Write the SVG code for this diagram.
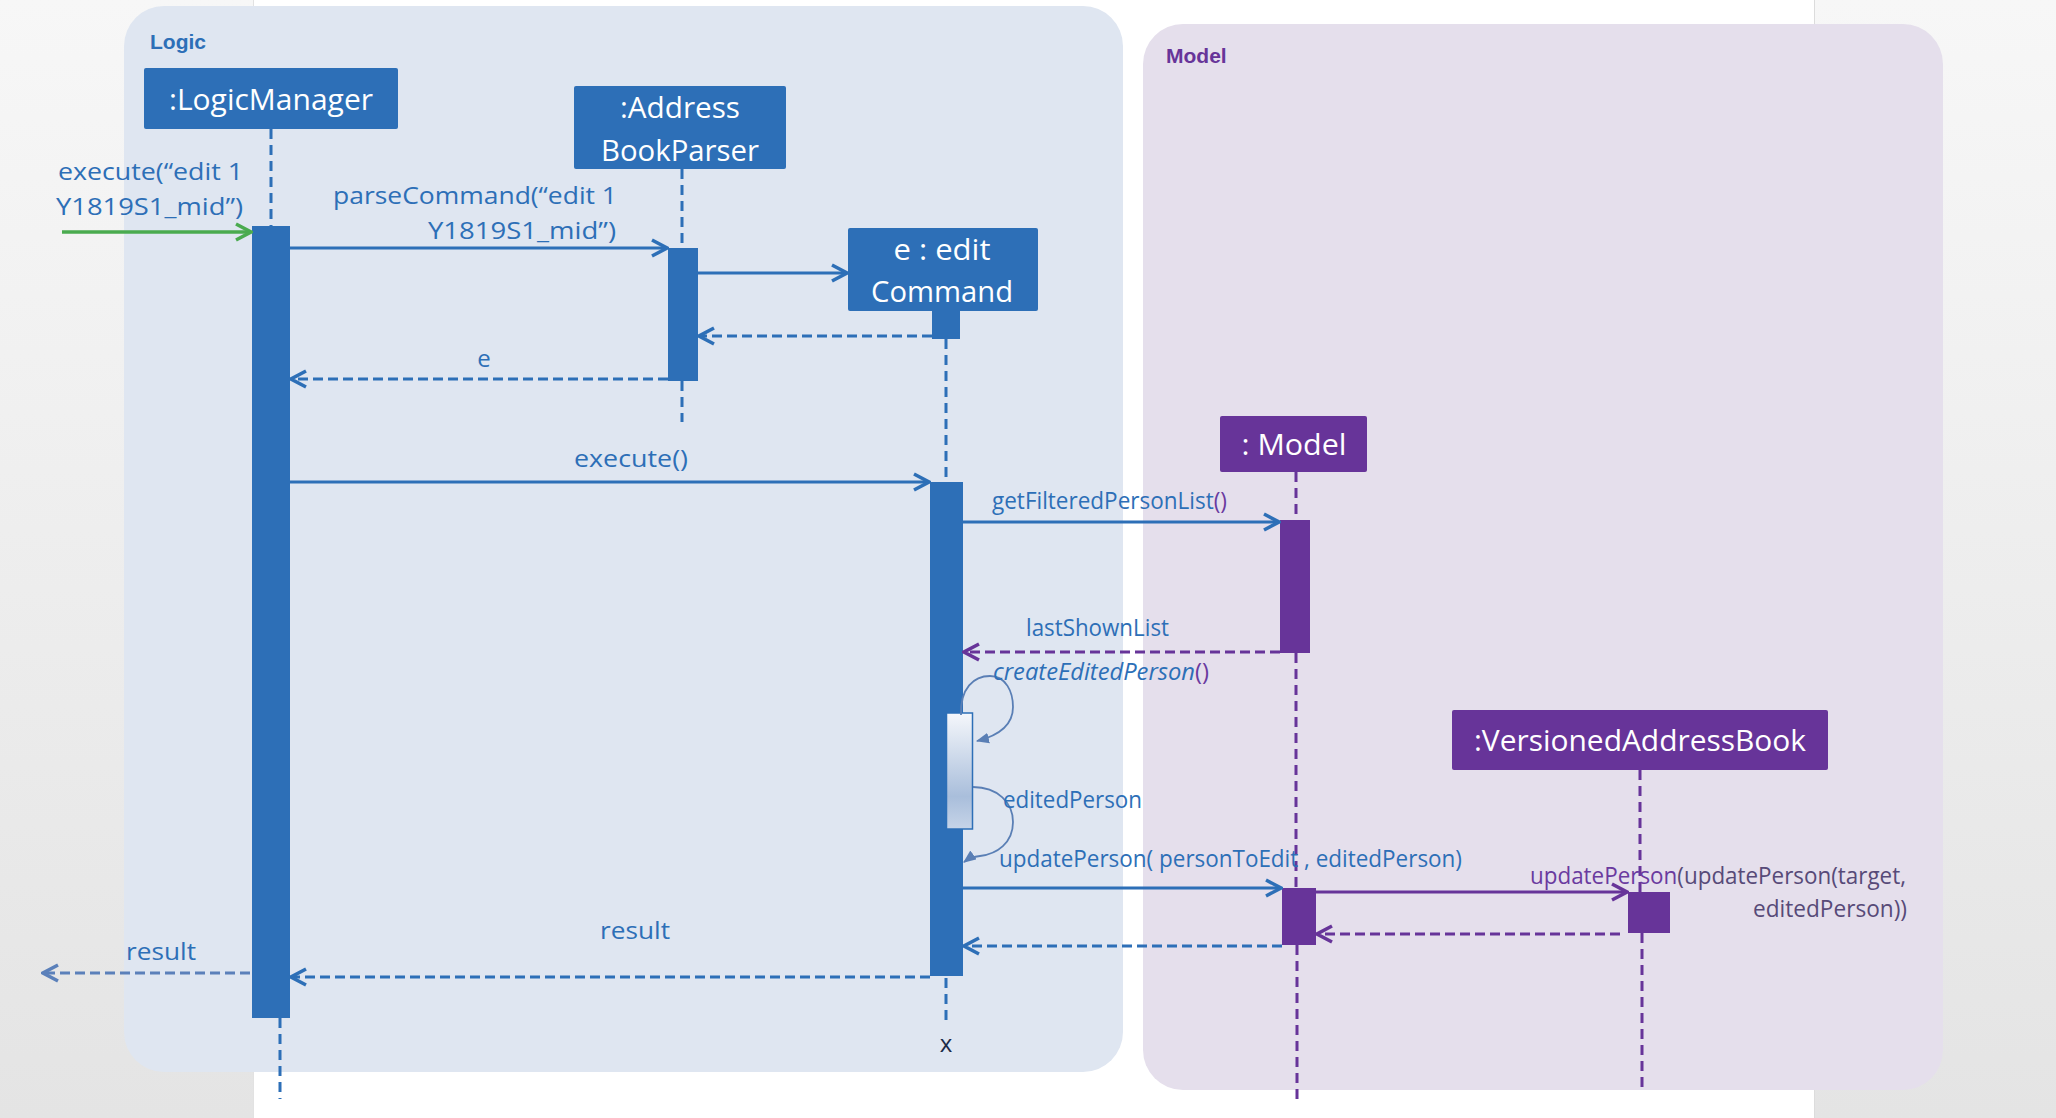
<svg xmlns="http://www.w3.org/2000/svg" width="2056" height="1118" viewBox="0 0 2056 1118">
<defs>
<linearGradient id="gray" x1="0" y1="0" x2="0" y2="1"><stop offset="0" stop-color="#f7f7f7"/><stop offset="1" stop-color="#e4e4e4"/></linearGradient>
<linearGradient id="inner" x1="0" y1="0" x2="0" y2="1"><stop offset="0" stop-color="#f5f7fb"/><stop offset="0.72" stop-color="#a9bedb"/><stop offset="1" stop-color="#c6d4e8"/></linearGradient>
<marker id="ab" viewBox="0 0 20 20" refX="18" refY="10" markerWidth="20" markerHeight="20" markerUnits="userSpaceOnUse" orient="auto"><path d="M3,2 L18,10 L3,18" fill="none" stroke="#2d6fb7" stroke-width="3.5"/></marker>
<marker id="ag" viewBox="0 0 20 20" refX="18" refY="10" markerWidth="20" markerHeight="20" markerUnits="userSpaceOnUse" orient="auto"><path d="M3,2 L18,10 L3,18" fill="none" stroke="#4aab4f" stroke-width="3.5"/></marker>
<marker id="ap" viewBox="0 0 20 20" refX="18" refY="10" markerWidth="20" markerHeight="20" markerUnits="userSpaceOnUse" orient="auto"><path d="M3,2 L18,10 L3,18" fill="none" stroke="#673499" stroke-width="3.5"/></marker>
<marker id="al" viewBox="0 0 20 20" refX="18" refY="10" markerWidth="20" markerHeight="20" markerUnits="userSpaceOnUse" orient="auto"><path d="M3,2 L18,10 L3,18" fill="none" stroke="#5b80ba" stroke-width="3.5"/></marker>
<marker id="tri" viewBox="0 0 12 10" refX="11" refY="5" markerWidth="13" markerHeight="11" markerUnits="userSpaceOnUse" orient="auto"><path d="M0,0 L12,5 L0,10 z" fill="#5a7fb5"/></marker>
</defs>
<style>
.lifeB{stroke:#2d6fb7;stroke-width:3;stroke-dasharray:10 6;fill:none}
.lifeP{stroke:#673499;stroke-width:3;stroke-dasharray:10 6;fill:none}
.barB{fill:#2d6fb7}
.barP{fill:#673499}
.boxB{fill:#2d6fb7}
.boxP{fill:#673499}
.msgB{stroke:#2d6fb7;stroke-width:3.2;fill:none;marker-end:url(#ab)}
.msgP{stroke:#673499;stroke-width:3.2;fill:none;marker-end:url(#ap)}
.retB{stroke:#2d6fb7;stroke-width:3.2;fill:none;stroke-dasharray:10 5;marker-end:url(#ab)}
.retP{stroke:#673499;stroke-width:3.2;fill:none;stroke-dasharray:10 5;marker-end:url(#ap)}
.self{stroke:#5a7fb5;stroke-width:1.8;fill:none;marker-end:url(#tri)}
.t{font-family:"Open Sans","Liberation Sans",sans-serif}
.lbl{font-size:24px;fill:#2d6fb7}
.pl{fill:#6a3a9f}
.gp{fill:#574a78}
.bt{font-size:30px;fill:#ffffff;text-anchor:middle}
.ttl{font-family:"Liberation Sans",sans-serif;font-weight:bold;font-size:21px}
</style>

<g id="background">
<rect x="0" y="0" width="253" height="1118" fill="url(#gray)"/>
<rect x="253" y="0" width="1562" height="1118" fill="#ffffff"/>
<rect x="1815" y="0" width="241" height="1118" fill="url(#gray)"/>
<line x1="253.5" y1="0" x2="253.5" y2="1118" stroke="#e2e2e2" stroke-width="1"/>
<line x1="1814.5" y1="0" x2="1814.5" y2="1118" stroke="#dcdcdc" stroke-width="1"/>
</g>

<g id="logic-panel">
<rect x="124" y="6" width="999" height="1066" rx="40" fill="#dfe6f1"/>
<text class="ttl" x="150" y="49" fill="#2d6fb7">Logic</text>
</g>
<g id="model-panel">
<rect x="1143" y="24" width="800" height="1066" rx="40" fill="#e5dfec"/>
<text class="ttl" x="1166" y="63" fill="#673499">Model</text>
</g>

<g id="logicManager">
<line class="lifeB" x1="271" y1="129" x2="271" y2="226"/>
<line class="lifeB" x1="280" y1="1018" x2="280" y2="1099"/>
<rect class="boxB" x="144" y="68" width="254" height="61" rx="2"/>
<text class="t bt" x="271" y="110" textLength="204" lengthAdjust="spacingAndGlyphs">:LogicManager</text>
<rect class="barB" x="252" y="226" width="38" height="792"/>
</g>

<g id="addressBookParser">
<line class="lifeB" x1="682" y1="169" x2="682" y2="248"/>
<line class="lifeB" x1="682" y1="381" x2="682" y2="422"/>
<rect class="boxB" x="574" y="86" width="212" height="83" rx="2"/>
<text class="t bt" x="680" y="118" textLength="120" lengthAdjust="spacingAndGlyphs">:Address</text>
<text class="t bt" x="680" y="161" textLength="158" lengthAdjust="spacingAndGlyphs">BookParser</text>
<rect class="barB" x="668" y="248" width="30" height="133"/>
</g>

<g id="editCommand">
<line class="lifeB" x1="946" y1="339" x2="946" y2="482"/>
<line class="lifeB" x1="946" y1="978" x2="946" y2="1022"/>
<rect class="boxB" x="848" y="228" width="190" height="83" rx="2"/>
<text class="t bt" x="942" y="260" textLength="97" lengthAdjust="spacingAndGlyphs">e : edit</text>
<text class="t bt" x="942" y="302" textLength="142" lengthAdjust="spacingAndGlyphs">Command</text>
<rect class="barB" x="932" y="311" width="28" height="28"/>
<rect class="barB" x="930" y="482" width="33" height="494"/>
<rect x="946.5" y="713" width="26" height="116" fill="url(#inner)" stroke="#2d6fb7" stroke-width="1.5"/>
<text class="t" x="946" y="1052" font-size="24" fill="#1c2a48" text-anchor="middle">x</text>
</g>

<g id="model">
<line class="lifeP" x1="1296" y1="472" x2="1296" y2="520"/>
<line class="lifeP" x1="1296" y1="653" x2="1296" y2="888"/>
<line class="lifeP" x1="1297" y1="945" x2="1297" y2="1103"/>
<rect class="boxP" x="1220" y="416" width="147" height="56" rx="2"/>
<text class="t bt" x="1294" y="455" textLength="105" lengthAdjust="spacingAndGlyphs">: Model</text>
<rect class="barP" x="1280" y="520" width="30" height="133"/>
<rect class="barP" x="1282" y="888" width="34" height="57"/>
</g>

<g id="versionedAddressBook">
<line class="lifeP" x1="1640" y1="770" x2="1640" y2="892"/>
<line class="lifeP" x1="1642" y1="933" x2="1642" y2="1090"/>
<rect class="boxP" x="1452" y="710" width="376" height="60" rx="2"/>
<text class="t bt" x="1640" y="751" textLength="332" lengthAdjust="spacingAndGlyphs">:VersionedAddressBook</text>
<rect class="barP" x="1628" y="892" width="42" height="41"/>
</g>

<g id="connectors">
<line x1="62" y1="232" x2="251" y2="232" stroke="#4aab4f" stroke-width="3.4" marker-end="url(#ag)"/>
<line class="msgB" x1="290" y1="248" x2="667" y2="248"/>
<line class="msgB" x1="698" y1="273" x2="847" y2="273"/>
<line class="retB" x1="932" y1="336" x2="699" y2="336"/>
<line class="retB" x1="668" y1="379" x2="291" y2="379"/>
<line class="msgB" x1="290" y1="482" x2="929" y2="482"/>
<line class="msgB" x1="963" y1="522" x2="1279" y2="522"/>
<line class="retP" x1="1280" y1="652" x2="964" y2="652"/>
<path class="self" d="M961,715 C960,688 974,676 990,676 C1006,676 1013,692 1013,707 C1013,724 1001,735 977,741"/>
<path class="self" d="M973,787 C998,787 1013,803 1013,822 C1013,843 997,854 980,856 C972,857 968,859 964,862"/>
<line class="msgB" x1="963" y1="888" x2="1281" y2="888"/>
<line class="msgP" x1="1316" y1="892" x2="1627" y2="892"/>
<line class="retP" x1="1620" y1="934" x2="1317" y2="934"/>
<line class="retB" x1="1282" y1="946" x2="964" y2="946"/>
<line class="retB" x1="930" y1="977" x2="291" y2="977"/>
<line x1="250" y1="973" x2="43" y2="973" stroke="#5b80ba" stroke-width="3.2" stroke-dasharray="10 5" marker-end="url(#al)"/>

<text class="t lbl" x="58" y="180" textLength="185" lengthAdjust="spacingAndGlyphs">execute(“edit 1</text>
<text class="t lbl" x="56" y="215" textLength="187" lengthAdjust="spacingAndGlyphs">Y1819S1_mid”)</text>
<text class="t lbl" x="333" y="204" textLength="284" lengthAdjust="spacingAndGlyphs">parseCommand(“edit 1</text>
<text class="t lbl" x="428" y="239" textLength="188" lengthAdjust="spacingAndGlyphs">Y1819S1_mid”)</text>
<text class="t lbl" x="484" y="367" text-anchor="middle">e</text>
<text class="t lbl" x="574" y="467" textLength="114" lengthAdjust="spacingAndGlyphs">execute()</text>
<text class="t lbl" x="992" y="509" font-size="23" textLength="235" lengthAdjust="spacingAndGlyphs">getFilteredPersonList<tspan class="pl">()</tspan></text>
<text class="t lbl" x="1026" y="636" font-size="23" textLength="143" lengthAdjust="spacingAndGlyphs">lastShownList</text>
<text class="t lbl" x="993" y="680" font-size="23" textLength="216" lengthAdjust="spacingAndGlyphs"><tspan font-style="italic">createEditedPerson</tspan><tspan class="pl">()</tspan></text>
<text class="t lbl" x="1003" y="808" font-size="23" textLength="139" lengthAdjust="spacingAndGlyphs">editedPerson</text>
<text class="t lbl" x="999" y="867" font-size="23" textLength="463" lengthAdjust="spacingAndGlyphs">updatePerson( personToEdit , editedPerson)</text>
<text class="t lbl" x="1530" y="884" font-size="23" textLength="376" lengthAdjust="spacingAndGlyphs"><tspan class="pl">updatePerson</tspan><tspan class="gp">(updatePerson(target,</tspan></text>
<text class="t lbl gp" x="1753" y="917" font-size="23" textLength="154" lengthAdjust="spacingAndGlyphs">editedPerson))</text>
<text class="t lbl" x="600" y="939" textLength="70" lengthAdjust="spacingAndGlyphs">result</text>
<text class="t lbl" x="126" y="960" textLength="70" lengthAdjust="spacingAndGlyphs">result</text>
</g>
</svg>
